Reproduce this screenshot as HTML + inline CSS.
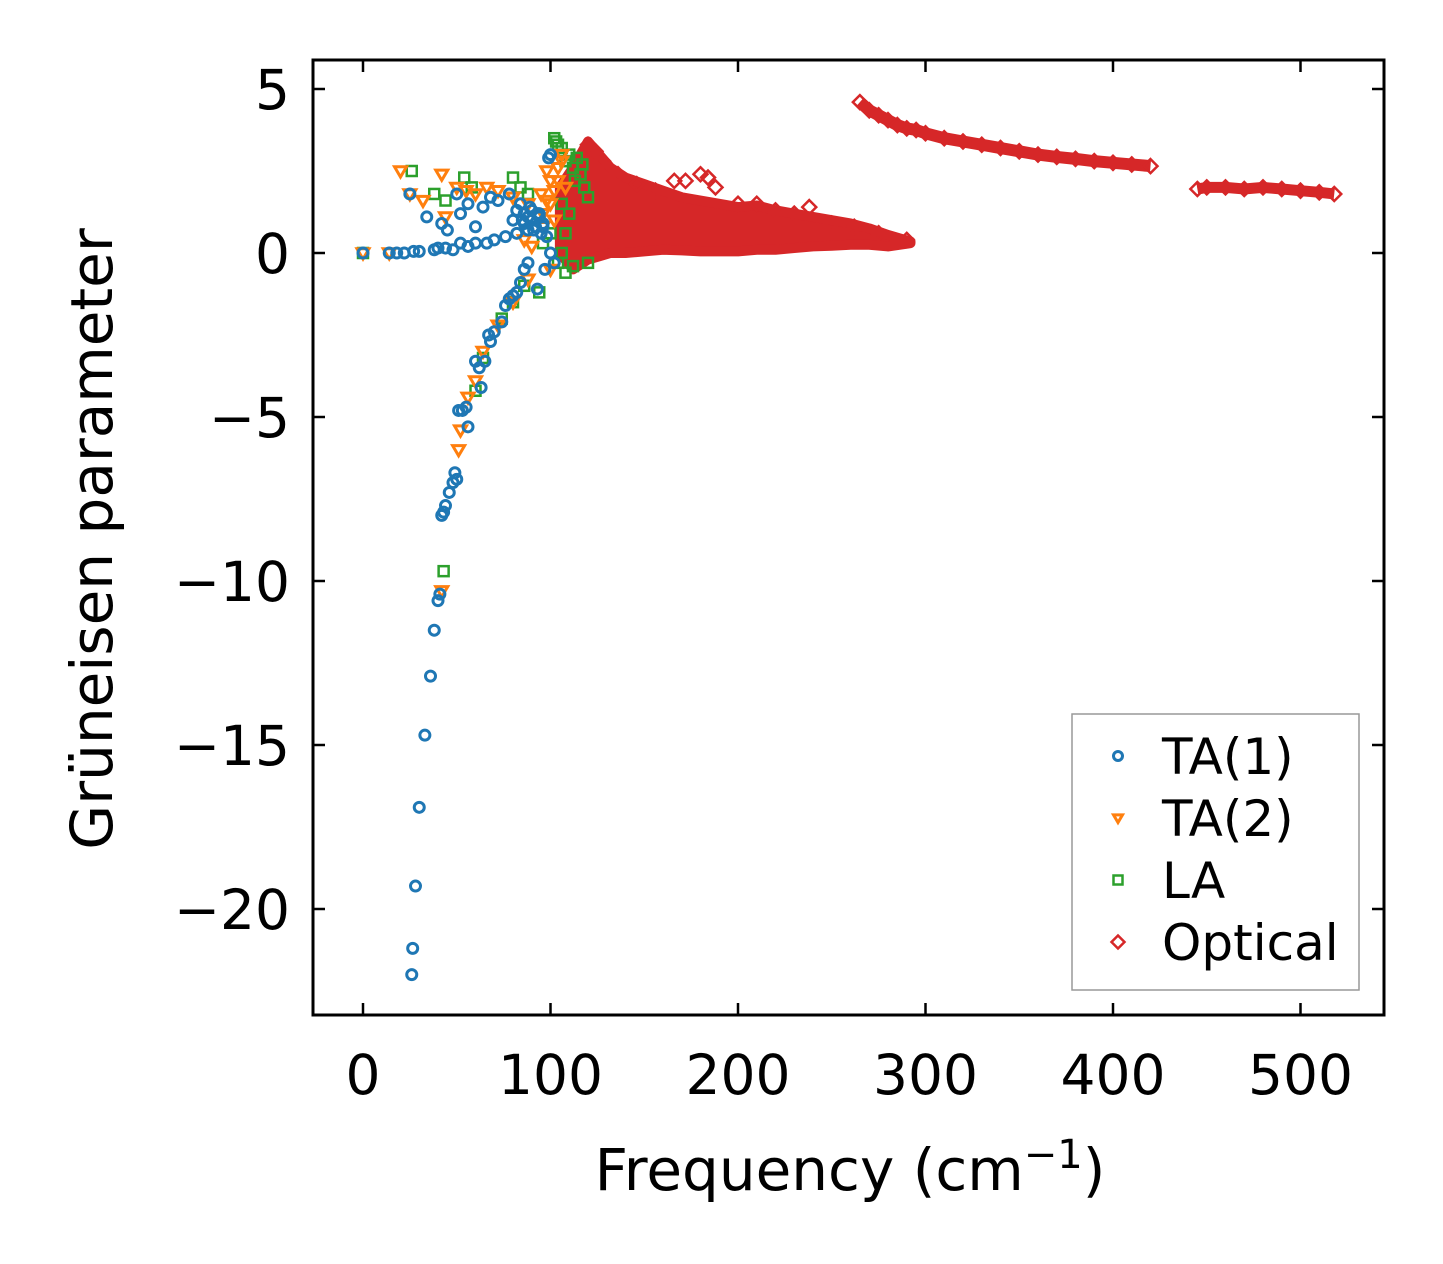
<!DOCTYPE html>
<html><head><meta charset="utf-8"><style>
body{margin:0;background:#fff}
svg{display:block;font-family:"DejaVu Sans","Liberation Sans",sans-serif}
</style></head><body>
<svg id="c" width="1443" height="1264" xmlns="http://www.w3.org/2000/svg"></svg>
<script>
const xTicks=[0,100,200,300,400,500];
const yTicks=[5,0,-5,-10,-15,-20];
const yTickLabels=["5","0","\u22125","\u221210","\u221215","\u221220"];
const ta1X=[26,26.5,28,30,33,36,38,40,41,42,43,44,46,48,49,50,51,53,55,56,60,62,63,65,67,68,70,74,76,78,80,82,84,86,88,93,97,0,14,18,22,27,30,38,40,44,48,52,56,60,66,70,76,82,88,25,34,42,45,50,52,56,60,64,68,72,78,84,86,90,94,96,99,100,98,100,102,86,88,90,92,94,96,85,89,91,93,95,80,82];
const ta1Y=[-22,-21.2,-19.3,-16.9,-14.7,-12.9,-11.5,-10.6,-10.4,-8,-7.9,-7.7,-7.3,-7,-6.7,-6.9,-4.8,-4.8,-4.7,-5.3,-3.3,-3.5,-4.1,-3.3,-2.5,-2.7,-2.4,-2.1,-1.6,-1.4,-1.3,-1.2,-0.9,-0.5,-0.3,-1.1,-0.5,0,0,0,0,0.05,0.05,0.1,0.15,0.15,0.1,0.3,0.2,0.3,0.3,0.4,0.5,0.6,0.7,1.8,1.1,0.9,0.7,1.8,1.2,1.5,0.8,1.4,1.7,1.6,1.8,1.5,1.2,1.0,1.1,0.8,2.9,3.0,0.5,0,-0.3,0.9,1.1,1.3,0.8,1.2,0.9,1.0,1.4,0.7,1.2,0.6,1.0,1.3];
const ta2X=[0,14,20,25,32,42,44,50,55,60,66,72,80,88,95,98,100,104,106,102,100,88,80,72,64,60,56,52,51,42,86,90,96,100,102,104,106,108,96,98];
const ta2Y=[0,0,2.5,1.8,1.6,2.4,1.1,2.0,1.9,1.8,2.0,1.9,1.7,1.5,1.8,2.5,2.2,2.6,3.0,1.0,-0.5,-0.8,-1.5,-2.2,-3.0,-3.9,-4.4,-5.4,-6.0,-10.3,0.4,0.2,1.2,1.5,1.9,2.2,2.8,2.0,0.8,1.6];
const laX=[0,26,38,44,54,58,80,84,88,102,104,108,112,116,118,120,106,110,108,106,104,108,112,120,94,86,80,74,64,60,43,100,96,114,110,103,106,113,117];
const laY=[0,2.5,1.8,1.6,2.3,2.0,2.3,2.0,1.8,3.5,3.3,2.8,2.6,2.4,2.0,1.7,1.5,1.2,0.6,0,-0.3,-0.6,-0.4,-0.3,-1.2,-1.0,-1.5,-2.0,-3.2,-4.2,-9.7,0.6,0.3,2.9,3.0,3.4,3.2,2.2,2.7];
const bandX=[105,112,120,126,132,140,150,160,170,180,190,200,210,220,230,240,250,260,270,280,292];
const bandUpper=[2.0,2.6,3.4,3.0,2.6,2.3,2.1,1.9,1.7,1.6,1.5,1.4,1.45,1.3,1.2,1.1,1.0,0.9,0.75,0.55,0.35];
const bandLower=[0,-0.5,-0.2,-0.1,0,0,0.05,0.1,0.08,0.05,0.05,0.05,0.1,0.1,0.15,0.2,0.22,0.25,0.25,0.2,0.3];
const optX=[166,172,180,184,188,156,230,238,120,124,128,136,146,200,210,220,250,262,275,290,265,270,275,280,285,290,295,300,310,320,330,340,350,360,370,380,390,400,410,420,445,450,460,470,480,490,500,510,518];
const optY=[2.2,2.2,2.4,2.3,2.0,1.9,1.2,1.4,3.3,3.1,2.8,2.4,2.1,1.5,1.5,1.3,0.9,0.8,0.6,0.4,4.6,4.35,4.2,4.05,3.9,3.8,3.75,3.65,3.5,3.4,3.3,3.2,3.1,3.0,2.93,2.87,2.8,2.75,2.7,2.65,1.95,2.0,2.0,1.95,2.0,1.95,1.9,1.85,1.8];
const upX=[265,270,275,280,285,290,295,300,310,320,330,340,350,360,370,380,390,400,410,420];
const upY=[4.6,4.35,4.2,4.05,3.9,3.8,3.75,3.65,3.5,3.4,3.3,3.2,3.1,3.0,2.93,2.87,2.8,2.75,2.7,2.65];
const hiX=[445,450,460,470,480,490,500,510,518];
const hiY=[1.95,2.0,2.0,1.95,2.0,1.95,1.9,1.85,1.8];

const L=313,R=1384,T=60,B=1015;
const sx=v=>363+v*1.875;
const sy=v=>253-v*32.8;
const svg=document.getElementById('c');
const NS='http://www.w3.org/2000/svg';
function mk(tag,attrs,parent){const e=document.createElementNS(NS,tag);for(const k in attrs)e.setAttribute(k,attrs[k]);(parent||svg).appendChild(e);return e;}
const C={b:'#1f77b4',o:'#ff7f0e',g:'#2ca02c',r:'#d62728'};

const gOpt=mk('g',{});


let pts=bandX.map((x,i)=>sx(x)+','+sy(bandUpper[i])).concat(bandX.map((x,i)=>sx(x)+','+sy(bandLower[i])).reverse()).join(' ');
const band=mk('polygon',{points:pts,fill:C.r,stroke:C.r,'stroke-width':10,'stroke-linejoin':'round'},gOpt);


const up=mk('polyline',{points:upX.map((x,i)=>sx(x)+','+sy(upY[i])).join(' '),fill:'none',stroke:C.r,'stroke-width':12},gOpt);


const hi=mk('polyline',{points:hiX.map((x,i)=>sx(x)+','+sy(hiY[i])).join(' '),fill:'none',stroke:C.r,'stroke-width':11},gOpt);


function diamond(x,y,g,s){return mk('polygon',{points:`${x},${y-s} ${x+s},${y} ${x},${y+s} ${x-s},${y}`,fill:'none',stroke:C.r,'stroke-width':2.5},g);}
optX.forEach((x,i)=>{const d=diamond(sx(x),sy(optY[i]),gOpt,7);});

function circ(x,y,g,r,c){return mk('circle',{cx:x,cy:y,r:r,fill:'none',stroke:c,'stroke-width':3},g);}
function tri(x,y,g,s,c){return mk('polygon',{points:`${x-s},${y-s*0.7} ${x+s},${y-s*0.7} ${x},${y+s}`,fill:'none',stroke:c,'stroke-width':3},g);}
function sq(x,y,g,s,c){return mk('rect',{x:x-s,y:y-s,width:2*s,height:2*s,fill:'none',stroke:c,'stroke-width':2.5},g);}

const gLA=mk('g',{});


laX.forEach((x,i)=>{const e=sq(sx(x),sy(laY[i]),gLA,5,C.g);});
const gT2=mk('g',{});


ta2X.forEach((x,i)=>{const e=tri(sx(x),sy(ta2Y[i]),gT2,6,C.o);});
const gT1=mk('g',{});


ta1X.forEach((x,i)=>{const e=circ(sx(x),sy(ta1Y[i]),gT1,5,C.b);});

const fr=mk('rect',{x:L,y:T,width:R-L,height:B-T,fill:'none',stroke:'#000','stroke-width':3});


xTicks.forEach(v=>{const x=sx(v);
 mk('line',{x1:x,x2:x,y1:B,y2:B-12,stroke:'#000','stroke-width':2.5});
 mk('line',{x1:x,x2:x,y1:T,y2:T+12,stroke:'#000','stroke-width':2.5});
 const t=mk('text',{x:x,y:1094,'font-size':55,'text-anchor':'middle'});t.textContent=v;
 
 });
yTicks.forEach((v,i)=>{const y=sy(v);
 mk('line',{x1:L,x2:L+12,y1:y,y2:y,stroke:'#000','stroke-width':2.5});
 mk('line',{x1:R,x2:R-12,y1:y,y2:y,stroke:'#000','stroke-width':2.5});
 const t=mk('text',{x:290,y:y+20,'font-size':55,'text-anchor':'end'});t.textContent=yTickLabels[i];
 
 });
const xt=mk('text',{x:850,y:1190,'font-size':58,'text-anchor':'middle'});
xt.innerHTML='Frequency (cm<tspan dy="-22" font-size="40">\u22121</tspan><tspan dy="22">)</tspan>';


const yt=mk('text',{x:0,y:0,'font-size':58,'text-anchor':'middle',transform:'translate(112,539) rotate(-90)'});
yt.textContent='Grüneisen parameter';



const lg=mk('g',{});


mk('rect',{x:1072,y:714,width:287,height:276,fill:'#fff',stroke:'#999','stroke-width':1.5},lg);
const names=['TA(1)','TA(2)','LA','Optical'];
names.forEach((n,i)=>{const y=756+i*62;const x=1118;
 let m;
 if(i==0)m=circ(x,y,lg,4.5,C.b);
 else if(i==1)m=tri(x,y,lg,4.5,C.o);
 else if(i==2)m=sq(x,y,lg,4.5,C.g);
 else{m=diamond(x,y,lg,6.5);}
 
 
 const t=mk('text',{x:1162,y:y+18,'font-size':50},lg);t.textContent=n;
 
 
});
</script>
</body></html>
